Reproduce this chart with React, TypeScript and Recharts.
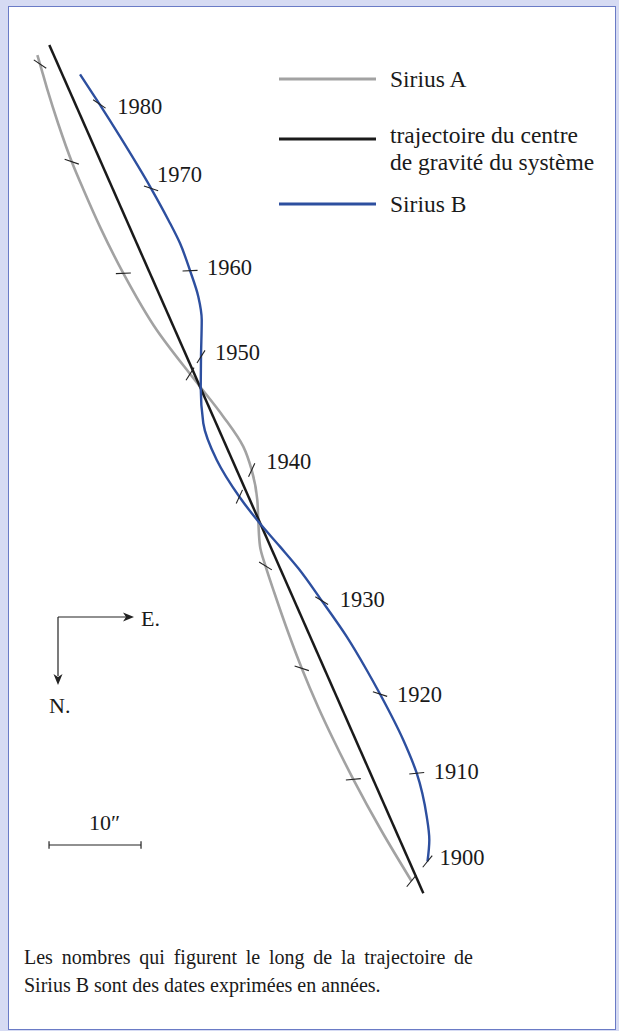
import { LineChart, Line, XAxis, YAxis, ReferenceLine, Legend } from 'recharts'

const W = 619
const H = 1031
const SERIF = "Liberation Serif, Tinos, Times New Roman, Times, DejaVu Serif, serif"

// arcseconds; origin where the three tracks cross near 1950, x toward E, y toward N (N is drawn downward)
const X_DOMAIN: [number, number] = [-21.82, 45.47]
const Y_DOMAIN: [number, number] = [-42.12, 69.95]

const siriusA = [
  { year: null, x: -17.76, y: -36.14 },
  { year: 1980, x: -17.47, y: -35.16 },
  { year: null, x: -16.66, y: -32.34 },
  { year: null, x: -15.51, y: -28.72 },
  { year: 1970, x: -14.02, y: -24.54 },
  { year: null, x: -12.73, y: -21.47 },
  { year: null, x: -10.87, y: -17.3 },
  { year: 1960, x: -8.41, y: -12.41 },
  { year: null, x: -4.78, y: -6.25 },
  { year: 1950, x: -1.16, y: -1.47 },
  { year: null, x: 0, y: 0 },
  { year: null, x: 2.46, y: 3.17 },
  { year: null, x: 4.63, y: 6.43 },
  { year: 1940, x: 5.54, y: 8.97 },
  { year: null, x: 6.15, y: 12.23 },
  { year: null, x: 6.26, y: 14.57 },
  { year: null, x: 6.45, y: 17.3 },
  { year: 1930, x: 7.04, y: 19.4 },
  { year: null, x: 8.02, y: 22.37 },
  { year: null, x: 9.54, y: 26.72 },
  { year: 1920, x: 10.98, y: 30.52 },
  { year: null, x: 12.75, y: 34.7 },
  { year: null, x: 14.35, y: 38.13 },
  { year: 1910, x: 16.59, y: 42.59 },
  { year: null, x: 19.6, y: 48.1 },
  { year: 1900, x: 22.91, y: 53.64 },
]

const siriusB = [
  { year: null, x: -13.12, y: -34.04 },
  { year: 1980, x: -11.02, y: -30.82 },
  { year: null, x: -8.77, y: -27.26 },
  { year: 1970, x: -5.4, y: -21.65 },
  { year: null, x: -3.52, y: -18.21 },
  { year: null, x: -2.25, y: -15.67 },
  { year: 1960, x: -1.16, y: -12.7 },
  { year: null, x: -0.26, y: -9.87 },
  { year: null, x: 0.11, y: -7.34 },
  { year: 1950, x: 0.03, y: -3.35 },
  { year: null, x: 0, y: 0 },
  { year: null, x: 0.28, y: 3.89 },
  { year: null, x: 1.74, y: 7.88 },
  { year: 1940, x: 4.2, y: 11.87 },
  { year: null, x: 6.26, y: 14.57 },
  { year: null, x: 8.62, y: 17.3 },
  { year: null, x: 10.61, y: 19.65 },
  { year: 1930, x: 13.15, y: 23.17 },
  { year: null, x: 15.87, y: 27.09 },
  { year: null, x: 18.04, y: 30.71 },
  { year: 1920, x: 19.49, y: 33.32 },
  { year: null, x: 22.02, y: 38.32 },
  { year: 1910, x: 23.48, y: 41.93 },
  { year: null, x: 24.57, y: 46.65 },
  { year: null, x: 24.85, y: 49.18 },
  { year: 1900, x: 24.65, y: 51.52 },
]

const centre = [
  { x: -16.46, y: -37.23 },
  { x: 24.2, y: 54.98 },
]

const NAME_A = 'Sirius A'
const NAME_C = 'trajectoire du centre de gravité du système'
const NAME_B = 'Sirius B'
const legendOrder = [NAME_A, NAME_C, NAME_B]

const SCALE_ARCSEC = 10

// where each date label sits relative to its tick on Sirius B (px)
const labelShift: Record<number, [number, number]> = {
  1980: [18, 10],
  1970: [6, -6],
  1960: [17, 4],
  1950: [14, 3],
  1940: [27, -28],
  1930: [18, 6],
  1920: [17, 8],
  1910: [17, 6],
  1900: [12, 4],
}

const TICK_HALF = 7.5

function yearMark(withLabel: boolean) {
  return (props: any) => {
    const { cx, cy, payload, index } = props
    const k = `${withLabel ? 'b' : 'a'}-${index}`
    if (payload?.year == null || cx == null || cy == null) return <g key={k} />
    const a = siriusA.find((p) => p.year === payload.year)
    const b = siriusB.find((p) => p.year === payload.year)
    let ux = 1
    let uy = 0
    if (a && b) {
      const d = Math.hypot(b.x - a.x, b.y - a.y) || 1
      ux = (b.x - a.x) / d
      uy = (b.y - a.y) / d
    }
    const [lx, ly] = labelShift[payload.year] ?? [17, 7]
    return (
      <g key={k}>
        <line
          x1={cx - ux * TICK_HALF}
          y1={cy - uy * TICK_HALF}
          x2={cx + ux * TICK_HALF}
          y2={cy + uy * TICK_HALF}
          stroke="#222"
          strokeWidth={1.1}
        />
        {withLabel && (
          <text x={cx + lx} y={cy + ly} fontSize={22.5} fill="#1a1a1a" fontFamily={SERIF}>
            {payload.year}
          </text>
        )}
      </g>
    )
  }
}

function wrap(s: string, max: number) {
  const out: string[] = []
  let cur = ''
  for (const w of s.split(' ')) {
    if (cur && (cur + ' ' + w).length > max) {
      out.push(cur)
      cur = w
    } else cur = cur ? cur + ' ' + w : w
  }
  if (cur) out.push(cur)
  return out
}

function renderLegend(props: any) {
  const items = [...(props.payload ?? [])].sort(
    (p: any, q: any) => legendOrder.indexOf(p.value) - legendOrder.indexOf(q.value)
  )
  const rowY = [79, 139, 204]
  return (
    <svg width={W} height={240} style={{ display: 'block' }}>
      {items.map((it: any, i: number) => {
        const y = rowY[i] ?? 79 + i * 60
        const lines = wrap(String(it.value), 22)
        const sw = it.payload?.strokeWidth ?? 2.5
        return (
          <g key={i}>
            <line x1={279} x2={376} y1={y} y2={y} stroke={it.color} strokeWidth={sw + 0.4} />
            {lines.map((l, j) => (
              <text
                key={j}
                x={390}
                y={y + (lines.length > 1 ? 4 : 8) + j * 27.3}
                fontSize={23.5}
                fill="#1a1a1a"
                fontFamily={SERIF}
              >
                {l}
              </text>
            ))}
          </g>
        )
      })}
    </svg>
  )
}

export default function App() {
  const barX = -16.49
  const barY = 49.73
  return (
    <div
      style={{
        position: 'absolute',
        left: 0,
        top: 0,
        width: W,
        height: H,
        background: '#d6dbf3',
        overflow: 'hidden',
      }}
    >
      <div
        style={{
          position: 'absolute',
          left: 8,
          top: 6,
          width: 606,
          height: 1022,
          background: '#fff',
          border: '1px solid #6a7bc6',
        }}
      />
      <svg width={W} height={H} style={{ position: 'absolute', left: 0, top: 0 }}>
        <g stroke="#222" strokeWidth={1.2} fill="none">
          <line x1={58} y1={617} x2={126} y2={617} />
          <line x1={58} y1={617} x2={58} y2={676} />
        </g>
        <polygon points="134,617 123,612.5 126,617 123,621.5" fill="#222" />
        <polygon points="58,685 53.5,674 58,677 62.5,674" fill="#222" />
        <text x={141} y={625.5} fontSize={22} fontFamily={SERIF} fill="#1a1a1a">
          E.
        </text>
        <text x={49} y={713} fontSize={22} fontFamily={SERIF} fill="#1a1a1a">
          N.
        </text>
        <text x={89} y={830} fontSize={22} fontFamily={SERIF} fill="#1a1a1a">
          10″
        </text>
      </svg>
      <div
        style={{
          position: 'absolute',
          left: 24,
          top: 943,
          width: 449,
          fontFamily: SERIF,
          fontSize: 20,
          lineHeight: '28px',
          color: '#1a1a1a',
        }}
      >
        <div style={{ textAlign: 'justify', textAlignLast: 'justify' }}>
          Les nombres qui figurent le long de la trajectoire de
        </div>
        <div>Sirius B sont des dates exprimées en années.</div>
      </div>
      <div style={{ position: 'absolute', left: 0, top: 0 }}>
        <LineChart width={W} height={H} margin={{ top: 0, right: 0, bottom: 0, left: 0 }}>
          <XAxis type="number" dataKey="x" domain={X_DOMAIN} allowDataOverflow hide />
          <YAxis type="number" dataKey="y" domain={Y_DOMAIN} allowDataOverflow reversed hide />
          <Legend
            layout="vertical"
            align="center"
            verticalAlign="middle"
            content={renderLegend}
            wrapperStyle={{ top: 0, left: 0, width: W, height: 240 }}
          />
          <Line
            data={siriusA}
            dataKey="y"
            name={NAME_A}
            type="monotoneY"
            stroke="#a2a2a2"
            strokeWidth={2.6}
            dot={yearMark(false)}
            activeDot={false}
            isAnimationActive={false}
          />
          <Line
            data={centre}
            dataKey="y"
            name={NAME_C}
            type="linear"
            stroke="#1a1a1a"
            strokeWidth={2.5}
            dot={false}
            activeDot={false}
            isAnimationActive={false}
          />
          <Line
            data={siriusB}
            dataKey="y"
            name={NAME_B}
            type="monotoneY"
            stroke="#2d4f9f"
            strokeWidth={2.4}
            dot={yearMark(true)}
            activeDot={false}
            isAnimationActive={false}
          />
          <ReferenceLine
            segment={[
              { x: barX, y: barY },
              { x: barX + SCALE_ARCSEC, y: barY },
            ]}
            stroke="#222"
            strokeWidth={1.2}
          />
          <ReferenceLine
            segment={[
              { x: barX, y: barY - 0.4 },
              { x: barX, y: barY + 0.4 },
            ]}
            stroke="#222"
            strokeWidth={1.2}
          />
          <ReferenceLine
            segment={[
              { x: barX + SCALE_ARCSEC, y: barY - 0.4 },
              { x: barX + SCALE_ARCSEC, y: barY + 0.4 },
            ]}
            stroke="#222"
            strokeWidth={1.2}
          />
        </LineChart>
      </div>
    </div>
  )
}
